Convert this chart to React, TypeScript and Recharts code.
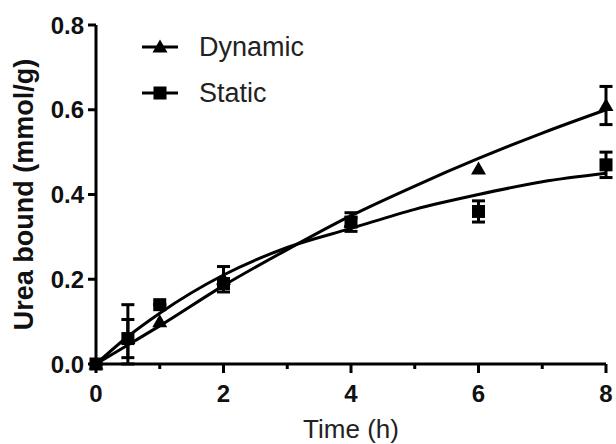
import React from 'react';
import { ComposedChart, Line, Scatter, XAxis, YAxis, ErrorBar, Legend } from 'recharts';

// measured points (mean, error)
const times = [0, 0.5, 1, 2, 4, 6, 8];
const dynamicMean = [0, 0.06, 0.1, 0.2, 0.335, 0.46, 0.61];
const dynamicErr = [0, 0.045, 0, 0.03, 0.022, 0, 0.045];
const staticMean = [0, 0.06, 0.14, 0.19, 0.335, 0.36, 0.47];
const staticErrLow = [0, 0.06, 0, 0.01, 0.01, 0.025, 0.03];
const staticErrHigh = [0, 0.08, 0, 0.01, 0.01, 0.025, 0.03];

// fitted curves
const fitTimes = [0, 0.5, 1, 2, 3, 4, 5, 6, 7, 8];
const dynamicFit = [0, 0.045, 0.09, 0.185, 0.27, 0.35, 0.42, 0.485, 0.545, 0.6];
const staticFit = [0, 0.065, 0.12, 0.21, 0.275, 0.32, 0.365, 0.4, 0.43, 0.45];

const xTicks = [0, 1, 2, 3, 4, 5, 6, 7, 8];
const yTicks = [0, 0.2, 0.4, 0.6, 0.8];

const FONT = '"Liberation Sans", Arial, Helvetica, sans-serif';

const dynamicPoints = times.map((t, i) => ({ t, v: dynamicMean[i], err: dynamicErr[i] }));
const staticPoints = times.map((t, i) => ({ t, v: staticMean[i], err: [staticErrLow[i], staticErrHigh[i]] }));
const dynamicCurve = fitTimes.map((t, i) => ({ t, v: dynamicFit[i] }));
const staticCurve = fitTimes.map((t, i) => ({ t, v: staticFit[i] }));

const Triangle = ({ cx, cy }: any) => (
  <polygon points={`${cx},${cy - 7.5} ${cx - 7.5},${cy + 5.5} ${cx + 7.5},${cy + 5.5}`} fill="#000" />
);

const Square = ({ cx, cy }: any) => <rect x={cx - 6.5} y={cy - 6.5} width={13} height={13} fill="#000" />;

const XTick = ({ x, y, payload }: any) => {
  const major = payload.value % 2 === 0;
  return (
    <g>
      <line x1={x} y1={y} x2={x} y2={y + (major ? 9 : 5)} stroke="#000" strokeWidth={3} />
      {major && (
        <text x={x} y={y + 38} textAnchor="middle" fontFamily={FONT} fontWeight="bold" fontSize={24} fill="#111">
          {payload.value}
        </text>
      )}
    </g>
  );
};

const YTick = ({ x, y, payload }: any) => (
  <g>
    <line x1={x - 8} y1={y} x2={x} y2={y} stroke="#000" strokeWidth={3} />
    <text x={x - 12} y={y} dy="0.36em" textAnchor="end" fontFamily={FONT} fontWeight="bold" fontSize={24} fill="#111">
      {payload.value.toFixed(1)}
    </text>
  </g>
);

const legendItems = [
  { name: 'Dynamic', marker: 'triangle' },
  { name: 'Static', marker: 'square' },
];

const renderLegend = () => (
  <div style={{ fontFamily: FONT }}>
    {legendItems.map((item) => (
      <div key={item.name} style={{ display: 'flex', alignItems: 'center', height: 46 }}>
        <svg width={36} height={20}>
          <line x1={0} y1={10} x2={36} y2={10} stroke="#000" strokeWidth={3} />
          {item.marker === 'triangle' ? <Triangle cx={18} cy={10} /> : <Square cx={18} cy={10} />}
        </svg>
        <span style={{ marginLeft: 21, fontSize: 27, color: '#222', lineHeight: 1 }}>{item.name}</span>
      </div>
    ))}
  </div>
);

export default function App() {
  return (
    <div style={{ position: 'absolute', left: 0, top: 0, background: '#fff' }}>
      <ComposedChart width={616} height={444} margin={{ top: 25, right: 10, bottom: 0, left: 0 }}>
        <XAxis
          dataKey="t"
          type="number"
          domain={[0, 8]}
          ticks={xTicks}
          interval={0}
          height={80}
          tickSize={0}
          tickMargin={0}
          tickLine={false}
          axisLine={{ stroke: '#000', strokeWidth: 3 }}
          tick={<XTick />}
          label={{
            content: ({ viewBox }: any) => (
              <text x={viewBox.x + viewBox.width / 2} y={438} textAnchor="middle" fontFamily={FONT} fontSize={26} fill="#222">
                Time (h)
              </text>
            ),
          }}
        />
        <YAxis
          dataKey="v"
          type="number"
          domain={[0, 0.8]}
          ticks={yTicks}
          interval={0}
          width={96}
          tickSize={0}
          tickMargin={0}
          tickLine={false}
          axisLine={{ stroke: '#000', strokeWidth: 3 }}
          tick={<YTick />}
          label={{
            content: ({ viewBox }: any) => {
              const cy = viewBox.y + viewBox.height / 2;
              return (
                <text
                  x={33}
                  y={cy}
                  transform={`rotate(-90, 33, ${cy})`}
                  textAnchor="middle"
                  fontFamily={FONT}
                  fontWeight="bold"
                  fontSize={27}
                  fill="#111"
                >
                  Urea bound (mmol/g)
                </text>
              );
            },
          }}
        />
        <Legend
          content={renderLegend}
          layout="vertical"
          verticalAlign="middle"
          align="center"
          wrapperStyle={{ left: 142, top: 24, width: 220 }}
        />
        <Line data={dynamicCurve} dataKey="v" type="monotone" stroke="#000" strokeWidth={3} dot={false} isAnimationActive={false} legendType="none" />
        <Line data={staticCurve} dataKey="v" type="monotone" stroke="#000" strokeWidth={3} dot={false} isAnimationActive={false} legendType="none" />
        <Scatter data={dynamicPoints} dataKey="v" shape={<Triangle />} isAnimationActive={false}>
          <ErrorBar dataKey="err" direction="y" width={6.5} stroke="#000" strokeWidth={3} isAnimationActive={false} />
        </Scatter>
        <Scatter data={staticPoints} dataKey="v" shape={<Square />} isAnimationActive={false}>
          <ErrorBar dataKey="err" direction="y" width={6.5} stroke="#000" strokeWidth={3} isAnimationActive={false} />
        </Scatter>
      </ComposedChart>
    </div>
  );
}
